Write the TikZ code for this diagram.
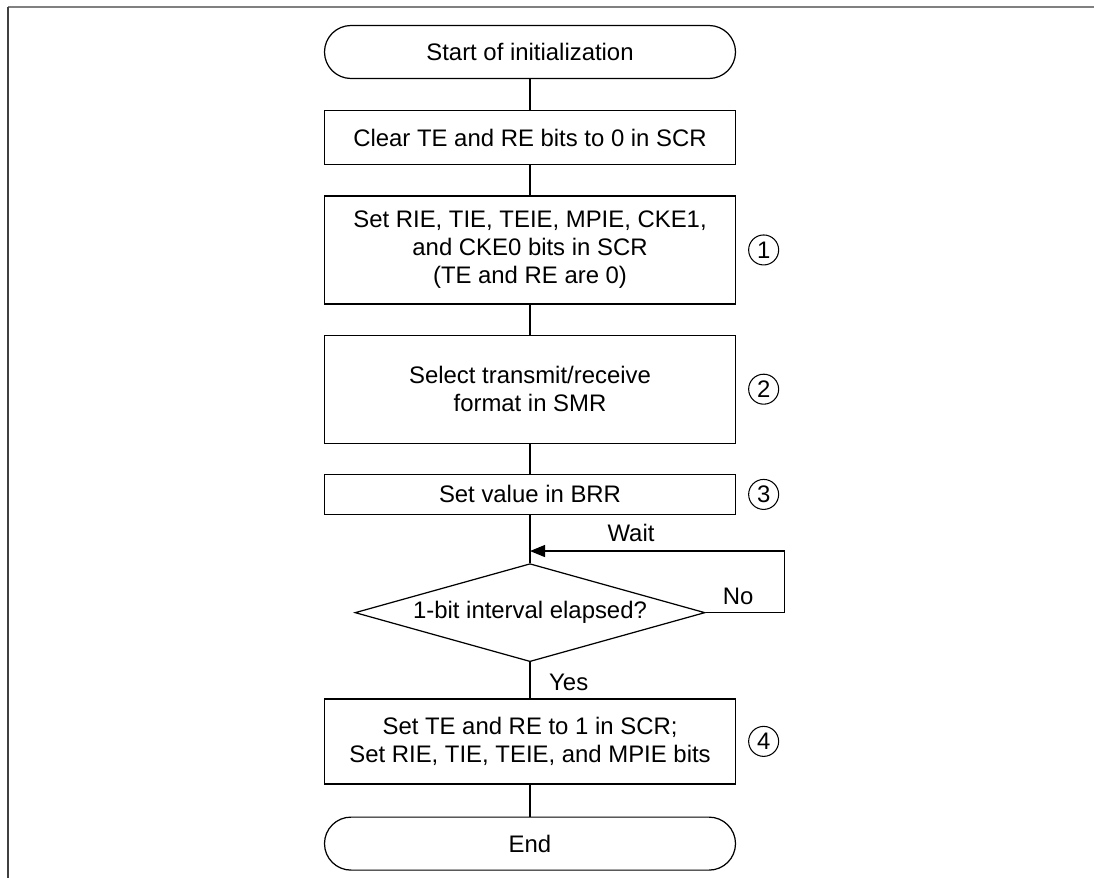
\documentclass[tikz,border=0pt]{standalone}
\usepackage{fontspec}
\setmainfont{Liberation Sans}
\usetikzlibrary{shapes.geometric,arrows.meta,positioning,calc}

\begin{document}
\begin{tikzpicture}[
  font=\fontsize{13.6}{16}\selectfont,
  procbox/.style={draw, line width=0.7pt, align=center, minimum width=8.22cm, inner sep=0pt},
  termbox/.style={procbox, rounded corners=0.53cm, minimum height=1.06cm},
  decbox/.style={draw, diamond, line width=0.7pt, aspect=3.57, inner sep=0pt, minimum width=7cm, minimum height=1.96cm},
  stepnum/.style={draw, circle, line width=0.6pt, minimum size=0.6cm, inner sep=0pt},
  flow/.style={line width=0.7pt},
  loopflow/.style={flow, -{Triangle[length=0.3cm, width=0.24cm]}}
]
\useasboundingbox (0,0) rectangle (21.88,-17.56);
% frame
\draw[gray, line width=1.2pt] (21.88,-0.14) -- (0.16,-0.14);
\draw[black!75, line width=1.2pt] (0.16,-0.14) -- (0.16,-17.56);

\node[termbox] (start) at (10.6,-1.04) {Start of initialization};
\node[procbox, minimum height=1.08cm, below=0.62cm of start] (clr) {Clear TE and RE bits to 0 in SCR};
\node[procbox, minimum height=2.16cm, below=0.6cm of clr] (scr) {Set RIE, TIE, TEIE, MPIE, CKE1,\\and CKE0 bits in SCR\\(TE and RE are 0)};
\node[procbox, minimum height=2.16cm, below=0.6cm of scr] (smr) {Select transmit/receive\\format in SMR};
\node[procbox, minimum height=0.8cm, below=0.6cm of smr] (brr) {Set value in BRR};
\node[decbox, below=0.96cm of brr] (dec) {1-bit interval elapsed?};
\node[procbox, minimum height=1.7cm, below=0.72cm of dec] (enab) {Set TE and RE to 1 in SCR;\\Set RIE, TIE, TEIE, and MPIE bits};
\node[termbox, below=0.64cm of enab] (end) {End};

% step numbers
\node[stepnum, right=0.24cm of scr] (n1) {1};
\node[stepnum, right=0.24cm of smr] (n2) {2};
\node[stepnum, right=0.24cm of brr] (n3) {3};
\node[stepnum, right=0.24cm of enab] (n4) {4};

\coordinate (join) at ($(dec.north)+(0,0.24)$);

\draw[flow] (start) -- (clr);
\draw[flow] (clr) -- (scr);
\draw[flow] (scr) -- (smr);
\draw[flow] (smr) -- (brr);
\draw[flow] (brr) -- (dec);
\draw[flow] (dec) -- (enab);
\draw[flow] (enab) -- (end);
\draw[loopflow] (dec.east) -- ++(1.58,0) |- (join);

\node[anchor=base] (wait) at ($(join)+(2.02,0.2)$) {Wait};
\node[anchor=base west] (no) at ($(dec.east)+(0.22,0.16)$) {No};
\node[anchor=base west] (yes) at ($(dec.south)+(0.26,-0.56)$) {Yes};
\end{tikzpicture}
\end{document}
